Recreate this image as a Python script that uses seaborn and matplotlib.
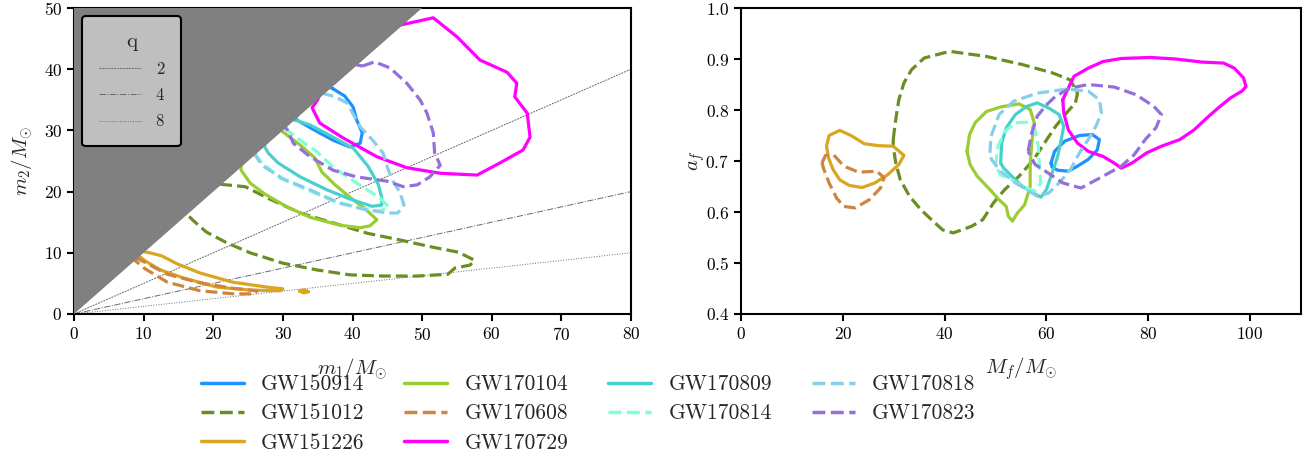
import matplotlib
matplotlib.use("Agg")
import matplotlib.pyplot as plt
from matplotlib.lines import Line2D
import numpy as np
import seaborn as sns

# events, colours and line styles
events = ["GW150914", "GW151012", "GW151226", "GW170104", "GW170608",
          "GW170729", "GW170809", "GW170814", "GW170818", "GW170823"]
colors = ["dodgerblue", "olivedrab", "goldenrod", "yellowgreen", "peru",
          "magenta", "mediumturquoise", "aquamarine", "skyblue", "mediumpurple"]
styles = ["-", "--", "-", "-", "--", "-", "-", "--", "--", "--"]

# mass-ratio guide lines
q_values = [2, 4, 8]
q_styles = [(0, (2, 1)), "-.", ":"]

# 90% contours in the (m1, m2) plane (parts inside the m2 > m1 region are hidden)
GW150914_m1 = [37.2, 38.9, 40.1, 40.6, 41.4, 41.1, 39.6, 37.2, 34.3, 32.0, 31.0, 35.0]
GW150914_m2 = [36.8, 35.6, 33.8, 31.7, 29.6, 27.9, 27.3, 28.4, 30.2, 31.7, 34.0, 38.0]

GW151012_m1 = [21.0, 24.6, 27.7, 32.5, 37.2, 42.1, 46.8, 51.6, 55.2, 57.5, 56.9, 54.7,
               53.7, 49.3, 44.4, 39.6, 34.9, 30.0, 25.3, 22.0, 19.0, 17.2, 16.2, 17.0]
GW151012_m2 = [21.2, 20.8, 19.0, 16.5, 14.9, 13.2, 12.1, 10.9, 10.1, 8.8, 8.0, 7.5,
               6.5, 6.2, 6.2, 6.4, 7.2, 8.3, 10.0, 11.6, 13.4, 15.2, 16.3, 20.0]

GW151226_m1 = [9.5, 10.9, 12.6, 14.8, 18.1, 22.8, 27.7, 30.0, 29.6, 25.3, 20.5, 15.7,
               12.4, 10.2, 9.3, 8.0]
GW151226_m2 = [10.3, 10.0, 9.5, 8.2, 6.7, 5.2, 4.4, 4.1, 3.8, 3.9, 4.4, 5.9,
               7.2, 8.7, 9.5, 12.0]
GW151226b_m1 = [32.4, 33.0, 33.7, 33.0]
GW151226b_m2 = [3.75, 3.95, 3.65, 3.45]

GW170104_m1 = [29.6, 32.5, 34.6, 35.6, 37.5, 39.6, 41.7, 43.5, 42.5, 41.1, 38.2, 33.9,
               30.6, 27.4, 25.3, 24.0, 24.0, 27.0]
GW170104_m2 = [30.1, 27.6, 25.5, 23.2, 21.1, 19.1, 17.3, 15.4, 14.4, 14.1, 14.5, 15.8,
               17.5, 19.6, 21.4, 23.5, 27.0, 31.0]

GW170608_m1 = [8.8, 10.9, 13.4, 18.1, 22.8, 26.3, 26.0, 22.8, 18.1, 13.4, 10.2, 8.5, 8.0]
GW170608_m2 = [9.3, 8.0, 6.5, 5.1, 4.2, 3.8, 3.3, 3.3, 3.8, 5.2, 7.4, 9.0, 10.0]

GW170729_m1 = [46.8, 51.6, 55.0, 58.3, 62.2, 63.6, 63.3, 65.1, 65.5, 64.5, 61.2, 57.9,
               52.6, 47.8, 43.5, 38.6, 35.3, 34.2, 35.0, 38.0]
GW170729_m2 = [47.2, 48.4, 45.3, 41.5, 39.5, 37.7, 35.5, 32.8, 28.9, 26.8, 24.7, 22.7,
               23.0, 23.9, 25.7, 28.8, 31.2, 33.7, 35.0, 44.0]

GW170809_m1 = [31.7, 33.9, 37.2, 40.1, 42.2, 43.7, 44.2, 44.2, 42.8, 39.6, 36.3, 32.5,
               29.3, 27.9, 27.4, 27.0, 30.0]
GW170809_m2 = [31.7, 30.9, 28.9, 27.1, 24.2, 21.2, 19.0, 17.8, 17.6, 18.8, 20.3, 22.4,
               24.7, 26.3, 27.3, 30.0, 33.0]

GW170814_m1 = [30.2, 32.5, 34.9, 37.2, 40.6, 43.9, 45.2, 43.9, 41.1, 37.2, 33.9, 29.6,
               27.0, 26.1, 27.0]
GW170814_m2 = [30.4, 28.4, 26.5, 24.0, 21.4, 19.0, 17.5, 16.8, 17.3, 18.5, 20.1, 22.2,
               24.7, 26.0, 30.0]

GW170818_m1 = [35.6, 37.5, 39.2, 41.1, 42.9, 44.4, 45.0, 45.7, 46.8, 47.4, 46.5, 45.1,
               42.1, 38.2, 33.9, 30.0, 27.0, 26.0, 27.0, 33.0]
GW170818_m2 = [36.1, 35.5, 34.5, 30.6, 28.4, 26.3, 24.0, 21.9, 19.9, 17.8, 16.5, 16.5,
               17.0, 18.1, 20.3, 22.1, 24.3, 26.0, 31.0, 38.0]

GW170823_m1 = [41.4, 43.2, 45.4, 47.8, 49.7, 50.7, 51.6, 51.8, 52.6, 51.1, 49.3, 47.3,
               45.0, 40.6, 37.2, 33.9, 31.5, 30.6, 28.0, 36.0]
GW170823_m2 = [40.5, 41.2, 40.2, 37.7, 35.0, 32.8, 29.6, 26.3, 24.3, 22.4, 21.1, 20.8,
               21.7, 22.4, 23.5, 25.7, 27.9, 30.2, 33.0, 42.0]

# 90% contours in the (Mf, af) plane
GW150914_Mf = [60.9, 61.6, 63.6, 66.5, 69.0, 70.4, 70.0, 68.2, 66.1, 64.3, 62.2, 61.1]
GW150914_af = [0.696, 0.719, 0.739, 0.750, 0.752, 0.742, 0.722, 0.703, 0.690, 0.680, 0.682, 0.688]

GW151012_Mf = [29.9, 30.3, 31.0, 32.0, 33.5, 36.0, 41.0, 48.2, 55.3, 61.1, 64.7, 66.1,
               65.7, 63.9, 61.8, 59.6, 57.5, 54.6, 51.8, 49.6, 47.5, 45.3, 41.7, 39.6,
               37.4, 35.3, 33.1, 31.3, 30.4, 29.9]
GW151012_af = [0.742, 0.775, 0.820, 0.853, 0.879, 0.902, 0.915, 0.905, 0.889, 0.873, 0.859, 0.833,
               0.814, 0.794, 0.768, 0.735, 0.703, 0.670, 0.644, 0.618, 0.585, 0.572, 0.559, 0.565,
               0.585, 0.605, 0.631, 0.663, 0.696, 0.729]

GW151226_Mf = [16.8, 17.3, 19.4, 21.6, 24.2, 27.0, 29.9, 32.0, 31.0, 28.8, 26.3, 23.8,
               21.3, 19.4, 18.1, 17.2]
GW151226_af = [0.729, 0.750, 0.760, 0.750, 0.734, 0.730, 0.729, 0.711, 0.693, 0.673, 0.657, 0.648,
               0.652, 0.663, 0.683, 0.706]

GW170104_Mf = [44.4, 44.9, 46.0, 48.2, 51.0, 54.6, 56.8, 57.6, 57.1, 56.8, 56.8, 55.7,
               54.3, 53.3, 52.5, 52.1, 50.7, 48.9, 46.4, 45.0]
GW170104_af = [0.719, 0.752, 0.775, 0.797, 0.806, 0.812, 0.801, 0.775, 0.735, 0.690, 0.650, 0.614,
               0.598, 0.582, 0.592, 0.611, 0.624, 0.644, 0.670, 0.693]

GW170608_Mf = [15.9, 16.6, 18.2, 20.2, 23.1, 26.7, 28.1, 27.4, 25.2, 22.4, 20.2, 18.8, 17.3, 16.3]
GW170608_af = [0.696, 0.711, 0.712, 0.690, 0.678, 0.680, 0.667, 0.647, 0.624, 0.608, 0.611, 0.627,
               0.657, 0.683]

GW170729_Mf = [63.2, 65.4, 68.2, 71.1, 74.7, 80.4, 85.4, 90.5, 94.8, 96.9, 98.7, 99.2,
               98.4, 96.2, 94.1, 91.9, 89.0, 86.2, 82.6, 79.7, 76.8, 74.7, 73.3, 71.1,
               68.2, 66.1, 64.3, 63.4]
GW170729_af = [0.820, 0.866, 0.882, 0.895, 0.901, 0.903, 0.900, 0.894, 0.892, 0.882, 0.863, 0.846,
               0.837, 0.824, 0.807, 0.788, 0.761, 0.742, 0.729, 0.716, 0.696, 0.686, 0.696, 0.709,
               0.719, 0.735, 0.761, 0.794]

GW170809_Mf = [51.0, 51.2, 52.1, 53.9, 56.1, 58.2, 60.4, 62.5, 63.4, 62.9, 62.2, 61.1,
               60.0, 58.9, 57.5, 55.3, 53.2, 51.6]
GW170809_af = [0.696, 0.735, 0.765, 0.791, 0.807, 0.814, 0.804, 0.791, 0.768, 0.742, 0.709, 0.676,
               0.644, 0.629, 0.637, 0.650, 0.670, 0.686]

GW170814_Mf = [50.0, 50.5, 51.8, 53.9, 56.4, 57.8, 58.4, 58.6, 58.9, 57.8, 55.3, 53.2, 51.0]
GW170814_af = [0.690, 0.729, 0.758, 0.775, 0.776, 0.761, 0.729, 0.690, 0.657, 0.641, 0.650, 0.663,
               0.673]

GW170818_Mf = [48.9, 49.1, 50.7, 53.5, 58.2, 63.9, 68.2, 70.4, 70.8, 69.7, 68.2, 66.5,
               64.7, 62.5, 60.4, 58.2, 56.1, 53.9, 51.0, 49.2]
GW170818_af = [0.716, 0.748, 0.791, 0.817, 0.833, 0.841, 0.837, 0.820, 0.794, 0.768, 0.742, 0.716,
               0.683, 0.657, 0.637, 0.631, 0.644, 0.657, 0.680, 0.703]

GW170823_Mf = [56.4, 57.1, 58.2, 60.0, 61.8, 64.7, 68.2, 73.3, 77.6, 81.1, 82.6, 81.5,
               79.4, 77.2, 74.7, 71.1, 66.8, 63.2, 60.4, 57.8]
GW170823_af = [0.719, 0.755, 0.788, 0.810, 0.827, 0.843, 0.850, 0.845, 0.830, 0.807, 0.791, 0.765,
               0.742, 0.712, 0.690, 0.670, 0.647, 0.657, 0.676, 0.693]

mass_contours = {
    "GW150914": [(GW150914_m1, GW150914_m2)],
    "GW151012": [(GW151012_m1, GW151012_m2)],
    "GW151226": [(GW151226_m1, GW151226_m2), (GW151226b_m1, GW151226b_m2)],
    "GW170104": [(GW170104_m1, GW170104_m2)],
    "GW170608": [(GW170608_m1, GW170608_m2)],
    "GW170729": [(GW170729_m1, GW170729_m2)],
    "GW170809": [(GW170809_m1, GW170809_m2)],
    "GW170814": [(GW170814_m1, GW170814_m2)],
    "GW170818": [(GW170818_m1, GW170818_m2)],
    "GW170823": [(GW170823_m1, GW170823_m2)],
}
remnant_contours = {
    "GW150914": (GW150914_Mf, GW150914_af),
    "GW151012": (GW151012_Mf, GW151012_af),
    "GW151226": (GW151226_Mf, GW151226_af),
    "GW170104": (GW170104_Mf, GW170104_af),
    "GW170608": (GW170608_Mf, GW170608_af),
    "GW170729": (GW170729_Mf, GW170729_af),
    "GW170809": (GW170809_Mf, GW170809_af),
    "GW170814": (GW170814_Mf, GW170814_af),
    "GW170818": (GW170818_Mf, GW170818_af),
    "GW170823": (GW170823_Mf, GW170823_af),
}

sns.set_style("ticks")
plt.rcParams["font.family"] = ["cmr10", "DejaVu Serif"]
plt.rcParams["mathtext.fontset"] = "cm"
plt.rcParams["axes.formatter.use_mathtext"] = True
plt.rcParams["axes.unicode_minus"] = False
plt.rcParams["axes.linewidth"] = 1.5
plt.rcParams["xtick.major.width"] = 1.5
plt.rcParams["ytick.major.width"] = 1.5
plt.rcParams["xtick.major.size"] = 5
plt.rcParams["ytick.major.size"] = 5
plt.rcParams["xtick.labelsize"] = 12.5
plt.rcParams["ytick.labelsize"] = 12.5
plt.rcParams["axes.edgecolor"] = "black"


def closed(a):
    a = np.asarray(a, dtype=float)
    return np.r_[a, a[:1]]


fig = plt.figure(figsize=(13.13, 4.59), dpi=100)
ax1 = fig.add_axes([74 / 1313, 145 / 459, 557 / 1313, 306 / 459])
ax2 = fig.add_axes([741 / 1313, 145 / 459, 560 / 1313, 306 / 459])

# left: component masses
m1_line = np.array([0, 80])
q_handles = []
for q, ls in zip(q_values, q_styles):
    h, = ax1.plot(m1_line, m1_line / q, color="dimgray", lw=0.7, linestyle=ls, zorder=1)
    q_handles.append(h)

for ev, col, ls in zip(events, colors, styles):
    for xs, ys in mass_contours[ev]:
        sns.lineplot(x=closed(xs), y=closed(ys), sort=False, estimator=None,
                     color=col, linestyle=ls, lw=2.3, ax=ax1, zorder=2)

ax1.fill_between([0, 80], [0, 80], 50, color="gray", lw=0, zorder=3)
ax1.set_xlim(0, 80)
ax1.set_ylim(0, 50)
ax1.set_xticks(np.arange(0, 81, 10))
ax1.set_yticks(np.arange(0, 51, 10))
ax1.set_xlabel(r"$m_1/M_{\odot}$", fontsize=15, labelpad=10)
ax1.set_ylabel(r"$m_2/M_{\odot}$", fontsize=15, labelpad=6)
qleg = ax1.legend(q_handles, [str(q) for q in q_values], title="q", loc="upper left",
                  fontsize=12, title_fontsize=15, facecolor="#bfbfbf", edgecolor="black",
                  framealpha=1, borderpad=1.0, labelspacing=0.65, handlelength=2.5,
                  handletextpad=0.9, borderaxespad=0.5)
qleg.get_frame().set_linewidth(1.5)
qleg.set_zorder(10)

# right: remnant mass and spin
for ev, col, ls in zip(events, colors, styles):
    xs, ys = remnant_contours[ev]
    sns.lineplot(x=closed(xs), y=closed(ys), sort=False, estimator=None,
                 color=col, linestyle=ls, lw=2.3, ax=ax2)
ax2.set_xlim(0, 110)
ax2.set_ylim(0.4, 1.0)
ax2.set_xticks(np.arange(0, 101, 20))
ax2.set_yticks(np.arange(0.4, 1.01, 0.1))
ax2.set_xlabel(r"$M_f/M_{\odot}$", fontsize=15, labelpad=10)
ax2.set_ylabel(r"$a_f$", fontsize=15, labelpad=-1)

for ax in (ax1, ax2):
    for s in ax.spines.values():
        s.set_visible(True)
        s.set_linewidth(1.5)
        s.set_color("black")
    ax.tick_params(direction="out", colors="black")

handles = [Line2D([], [], color=c, linestyle=ls, lw=2.5) for c, ls in zip(colors, styles)]
fig.legend(handles, events, ncol=4, loc="upper left", bbox_to_anchor=(192 / 1313, 1 - 366 / 459),
           frameon=False, fontsize=15.5, labelspacing=0.45, columnspacing=1.85, handlelength=2.0,
           handletextpad=0.8, borderaxespad=0)

fig.savefig("out.png", dpi=100)
